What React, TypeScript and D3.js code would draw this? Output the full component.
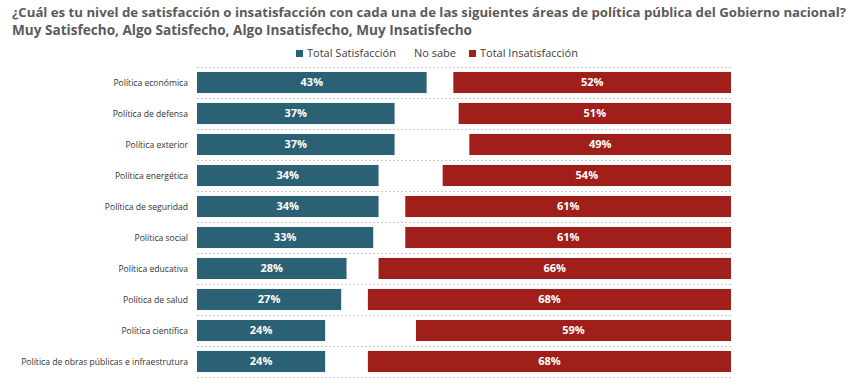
import React, { useEffect, useRef } from 'react';
import * as d3 from 'd3';

const categories = [
  'Política económica',
  'Política de defensa',
  'Política exterior',
  'Política energética',
  'Política de seguridad',
  'Política social',
  'Política educativa',
  'Política de salud',
  'Política científica',
  'Política de obras públicas e infraestrutura',
];
const satisfaccion = [43, 37, 37, 34, 34, 33, 28, 27, 24, 24];
const insatisfaccion = [52, 51, 49, 54, 61, 61, 66, 68, 59, 68];
const noSabe = satisfaccion.map((s, i) => 100 - s - insatisfaccion[i]);

const seriesNames = ['Total Satisfacción', 'No sabe', 'Total Insatisfacción'];
const seriesKeys = ['sat', 'ns', 'insat'];
const colors = ['#2b6174', 'none', '#a01f1b'];

const titleLines = [
  '¿Cuál es tu nivel de satisfacción o insatisfacción con cada una de las siguientes áreas de política pública del Gobierno nacional?',
  'Muy Satisfecho, Algo Satisfecho, Algo Insatisfecho, Muy Insatisfecho',
];

const FONT = "'Segoe UI', 'Open Sans', 'Noto Sans', sans-serif";

export default function App() {
  const ref = useRef<SVGSVGElement>(null);

  useEffect(() => {
    if (!ref.current) return;
    document.body.style.margin = '0';
    const svg = d3.select(ref.current);
    svg.selectAll('*').remove();

    const width = 862;
    const height = 388;
    svg.attr('width', width).attr('height', height).style('font-family', FONT);

    // Title
    svg.selectAll('.title')
      .data(titleLines)
      .enter().append('text')
      .attr('class', 'title')
      .attr('x', 12)
      .attr('y', (d, i) => 17 + i * 18)
      .attr('fill', '#5b5b5b')
      .attr('font-size', (d, i) => (i === 0 ? 13.2 : 14.5))
      .attr('font-weight', 700)
      .attr('textLength', (d, i) => (i === 0 ? 834 : 460))
      .attr('lengthAdjust', 'spacingAndGlyphs')
      .text(d => d);

    // Legend
    const legendX = [296, 414, 469];
    const legend = svg.append('g');
    seriesNames.forEach((name, i) => {
      if (colors[i] !== 'none') {
        legend.append('rect')
          .attr('x', legendX[i])
          .attr('y', 50)
          .attr('width', 7)
          .attr('height', 7)
          .attr('fill', colors[i]);
      }
      legend.append('text')
        .attr('x', colors[i] !== 'none' ? legendX[i] + 11 : legendX[i])
        .attr('y', 57)
        .attr('font-size', 11)
        .attr('fill', '#404040')
        .text(name);
    });

    const x = d3.scaleLinear().domain([0, 100]).range([197, 731]);
    const y = d3.scaleBand().domain(categories).range([67, 377]).paddingInner(0.32).paddingOuter(0.16);

    // dashed row separators
    const bounds = d3.range(categories.length + 1).map(i => 67 + i * y.step());
    svg.selectAll('.grid')
      .data(bounds)
      .enter().append('line')
      .attr('x1', x(0))
      .attr('x2', x(100))
      .attr('y1', d => d + 0.5)
      .attr('y2', d => d + 0.5)
      .attr('stroke', '#c8c8c8')
      .attr('stroke-width', 1)
      .attr('stroke-dasharray', '2,2');

    const rows = categories.map((c, i) => ({
      cat: c,
      sat: satisfaccion[i],
      ns: noSabe[i],
      insat: insatisfaccion[i],
    }));
    const stacked = d3.stack<any>().keys(seriesKeys)(rows);

    stacked.forEach((layer, li) => {
      if (colors[li] === 'none') return;
      const g = svg.append('g');
      g.selectAll('rect')
        .data(layer)
        .enter().append('rect')
        .attr('x', d => x(d[0]))
        .attr('y', d => y(d.data.cat) || 0)
        .attr('width', d => x(d[1]) - x(d[0]))
        .attr('height', y.bandwidth())
        .attr('fill', colors[li]);
      g.selectAll('text')
        .data(layer)
        .enter().append('text')
        .attr('x', d => (x(d[0]) + x(d[1])) / 2)
        .attr('y', d => (y(d.data.cat) || 0) + y.bandwidth() / 2)
        .attr('dy', '0.35em')
        .attr('text-anchor', 'middle')
        .attr('font-size', 11)
        .attr('font-weight', 700)
        .attr('fill', '#ffffff')
        .text(d => `${d[1] - d[0]}%`);
    });

    // category labels
    svg.selectAll('.cat')
      .data(categories)
      .enter().append('text')
      .attr('class', 'cat')
      .attr('x', 188)
      .attr('y', d => (y(d) || 0) + y.bandwidth() / 2)
      .attr('dy', '0.35em')
      .attr('text-anchor', 'end')
      .attr('font-size', 8.6)
      .attr('fill', '#333333')
      .text(d => d);
  }, []);

  return <svg ref={ref} style={{ display: 'block' }}></svg>;
}
